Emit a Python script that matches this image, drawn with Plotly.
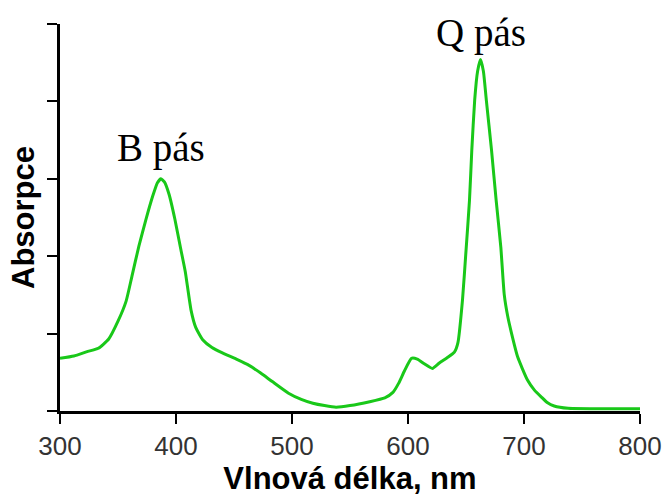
import plotly.graph_objects as go

# Wavelength (nm) and absorbance (arbitrary units, 0-5 scale)
wavelength = [300, 312, 324, 333, 342, 350, 357, 362, 368, 374, 380, 384, 387, 390,
              394, 399, 404, 408, 413, 417, 423, 431, 440, 452, 463, 473, 483, 497,
              508, 518, 528, 538, 550, 567, 580, 587, 592, 597, 603, 608, 614, 621,
              627, 634, 640, 643, 647, 650, 653, 655, 657.5, 660, 662.5, 665, 667.5,
              672, 676, 680, 683, 686, 689, 694.5, 703, 709, 715, 720, 726, 738, 760,
              800]
absorbance = [0.68, 0.71, 0.77, 0.81, 0.93, 1.16, 1.42, 1.74, 2.13, 2.47, 2.78, 2.95,
              3.00, 2.96, 2.80, 2.48, 2.10, 1.80, 1.30, 1.08, 0.92, 0.82, 0.75, 0.67,
              0.59, 0.49, 0.38, 0.23, 0.15, 0.10, 0.07, 0.05, 0.07, 0.12, 0.17, 0.24,
              0.36, 0.52, 0.68, 0.67, 0.61, 0.55, 0.62, 0.69, 0.76, 0.88, 1.44, 2.07,
              2.72, 3.37, 4.02, 4.39, 4.54, 4.39, 4.02, 3.37, 2.72, 2.12, 1.50, 1.22,
              1.02, 0.70, 0.40, 0.27, 0.18, 0.11, 0.065, 0.035, 0.03, 0.03]

x_ticks = [300, 400, 500, 600, 700, 800]
y_ticks = [0, 1, 2, 3, 4, 5]

band_labels = ["B pás", "Q pás"]
band_x = [387, 663]
band_y = [3.4, 4.88]

fig = go.Figure()
fig.add_trace(go.Scatter(
    x=wavelength, y=absorbance, mode="lines",
    line=dict(color="rgb(25,200,25)", width=3, shape="spline", smoothing=0.5),
    hoverinfo="skip", showlegend=False,
))

for lab, bx, by in zip(band_labels, band_x, band_y):
    fig.add_annotation(x=bx, y=by, text=lab, showarrow=False,
                       font=dict(family="Liberation Serif", size=39, color="black"),
                       xanchor="center", yanchor="middle")

fig.update_layout(
    width=666, height=497,
    margin=dict(l=60, r=26, t=24, b=86),
    plot_bgcolor="white", paper_bgcolor="white",
    xaxis=dict(
        range=[300, 800], tickvals=x_ticks, ticks="outside", ticklen=10, tickwidth=2,
        tickcolor="black", showline=True, linecolor="black", linewidth=2.5,
        showgrid=False, zeroline=False, automargin=False,
        tickfont=dict(family="Liberation Sans", size=26, color="#333333"),
        title=dict(text="<b>Vlnová délka, nm</b>", standoff=6,
                   font=dict(family="Liberation Sans", size=31, color="black")),
    ),
    yaxis=dict(
        range=[0, 5], tickvals=y_ticks, showticklabels=False, ticks="outside",
        ticklen=10, tickwidth=2, tickcolor="black", showline=True,
        linecolor="black", linewidth=2.5, showgrid=False, zeroline=False,
        automargin=False,
        title=dict(text="<b>Absorpce</b>", standoff=4,
                   font=dict(family="Liberation Sans", size=31, color="black")),
    ),
)

# Remove the default 8px page margin so the figure fills the window
fig.write_html("out.html", config={"displayModeBar": False},
               post_script="document.body.style.margin='0';"
                           "document.body.style.overflow='hidden';")
